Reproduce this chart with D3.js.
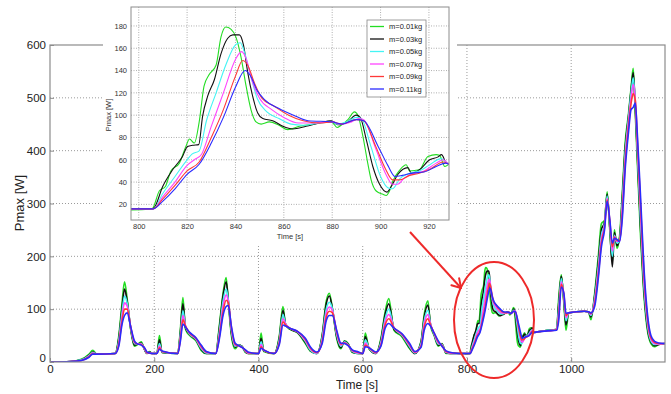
<!DOCTYPE html>
<html>
<head>
<meta charset="utf-8">
<script src="https://cdn.jsdelivr.net/npm/d3@7"></script>
<style>
  body { margin: 0; background: #fff; }
  svg { display: block; font-family: 'Liberation Sans', Arial, sans-serif; }
</style>
</head>
<body>
<svg width="671" height="394"></svg>
<script>
// series names / colours (legend order)
const labels = ['m=0.01kg', 'm=0.03kg', 'm=0.05kg', 'm=0.07kg', 'm=0.09kg', 'm=0.11kg'];
const colors = ['#22dd22', '#111111', '#44f4f4', '#ff44ff', '#ff3838', '#2a2aff'];

// time grid before the zoomed window (0..796 s)
const tPre = [0, 40, 60, 75, 82, 90, 125, 132, 138, 143, 148, 155, 162, 168, 175, 182, 186, 191, 196,
  205, 210, 215, 245, 250, 255, 260, 268, 280, 290, 300, 318, 325, 332, 338, 342, 348, 355, 362, 368,
  375, 380, 400, 405, 410, 430, 440, 447, 452, 460, 475, 490, 500, 512, 522, 530, 536, 542, 550, 558,
  565, 572, 580, 592, 600, 605, 612, 625, 635, 643, 650, 660, 675, 690, 700, 712, 718, 725, 730, 737,
  745, 752, 760, 775, 796];

const vPre = [
  [0, 1, 5, 15, 22, 15, 16, 50, 110, 152, 120, 60, 30, 33, 38, 22, 16, 20, 16, 16, 50, 18, 16, 60, 122, 62, 50, 40, 22, 16,
   16, 70, 130, 160, 115, 50, 25, 32, 30, 18, 16, 16, 55, 20, 16, 50, 105, 70, 62, 55, 35, 20, 16,
   50, 115, 130, 100, 45, 25, 40, 35, 18, 16, 16, 55, 25, 16, 45, 95, 120, 60, 48, 25, 16, 40, 90, 116, 70, 50, 30, 35, 16, 16, 16],
  [0, 1, 4, 13, 19, 15, 16, 45, 100, 138, 115, 62, 32, 34, 36, 22, 16, 19, 16, 16, 42, 18, 16, 55, 110, 65, 52, 42, 24, 16,
   16, 65, 125, 152, 118, 55, 28, 32, 30, 19, 16, 16, 45, 21, 16, 46, 98, 72, 63, 56, 37, 21, 16,
   48, 110, 125, 100, 48, 27, 39, 34, 19, 16, 16, 48, 26, 16, 42, 90, 110, 62, 50, 27, 16, 38, 85, 108, 72, 52, 32, 34, 17, 16, 16],
  [0, 1, 4, 12, 18, 15, 16, 40, 92, 125, 112, 64, 35, 34, 35, 23, 17, 18, 16, 16, 35, 19, 16, 50, 97, 68, 53, 43, 26, 17,
   16, 58, 115, 138, 118, 60, 30, 32, 29, 20, 17, 16, 38, 22, 16, 42, 90, 72, 64, 57, 39, 22, 16,
   44, 100, 113, 100, 52, 30, 38, 33, 20, 16, 16, 42, 27, 17, 38, 82, 100, 64, 51, 29, 17, 35, 78, 98, 72, 53, 34, 33, 18, 16, 16],
  [0, 1, 3, 11, 17, 15, 16, 36, 84, 112, 106, 65, 37, 34, 34, 24, 17, 18, 16, 16, 30, 20, 16, 45, 88, 68, 54, 44, 28, 18,
   16, 52, 105, 127, 115, 63, 32, 31, 28, 21, 17, 16, 33, 22, 16, 38, 82, 72, 64, 57, 41, 24, 17,
   40, 92, 104, 97, 55, 32, 37, 32, 21, 17, 16, 36, 27, 17, 35, 76, 90, 65, 52, 31, 18, 32, 72, 90, 72, 54, 36, 32, 19, 16, 16],
  [0, 1, 3, 10, 16, 15, 16, 33, 76, 100, 100, 66, 38, 34, 33, 25, 18, 17, 16, 16, 27, 20, 16, 42, 80, 68, 55, 45, 30, 19,
   16, 48, 95, 117, 112, 66, 34, 31, 28, 22, 18, 16, 29, 23, 16, 36, 76, 70, 64, 58, 43, 26, 18,
   37, 85, 96, 93, 58, 34, 36, 32, 22, 18, 16, 32, 27, 18, 32, 70, 82, 65, 53, 33, 19, 30, 66, 82, 70, 55, 38, 31, 20, 17, 16],
  [0, 1, 3, 9, 15, 15, 16, 30, 70, 88, 93, 66, 40, 34, 32, 26, 19, 17, 16, 16, 24, 21, 16, 38, 72, 66, 56, 46, 32, 20,
   16, 44, 88, 105, 107, 68, 36, 31, 28, 23, 19, 16, 26, 23, 16, 33, 70, 68, 64, 58, 45, 28, 19,
   34, 78, 88, 88, 60, 36, 35, 31, 23, 19, 16, 29, 27, 19, 30, 64, 73, 64, 54, 35, 20, 28, 60, 73, 68, 55, 40, 30, 21, 17, 16]
];

// zoomed window 797..928 s, [time, Pmax]
const zoomGreen = [[797, 15], [805.5, 16], [808.5, 32], [811, 36], [813.3, 50], [816.8, 57], [819.5, 72], [821, 78.6], [823, 75],
  [825, 94], [827, 126], [829, 136], [832, 145], [834, 170], [836, 179], [838.2, 177], [840.2, 170], [842.3, 152], [844.4, 126],
  [846.4, 105], [848.5, 94], [850.6, 92], [854, 94], [858, 91], [861.6, 87], [866.5, 90], [872, 92], [879, 94.4], [880.3, 93],
  [882, 89], [883.7, 91], [886.5, 96], [889.2, 103], [890.6, 100], [892.7, 81], [894.7, 57], [896.1, 42], [898.2, 32], [901, 29],
  [902.3, 28], [903.7, 32], [905.1, 41], [908, 51], [910.6, 55.5], [912, 50], [916, 51], [919.6, 63], [923, 64.6], [924.4, 64],
  [925.8, 57], [926.5, 54], [928.5, 56]];
const zoomBlack = [[797, 16], [805.5, 16], [806.4, 17], [809.9, 36], [814, 51], [818.1, 63], [820.2, 72], [822.3, 73], [824.8, 73.6],
  [826.4, 99], [828.5, 117], [831.3, 132], [834, 155], [836.8, 169], [838.9, 172], [841.6, 172], [843.3, 163], [845.1, 138],
  [847.1, 117], [849.2, 102], [851.3, 97], [855.4, 95], [859.6, 90], [863.7, 87.6], [869.2, 90], [874.7, 93], [879.6, 95],
  [882.3, 91.4], [886.5, 94.4], [889.9, 100], [891.6, 98], [894.1, 78], [896.8, 54], [899.6, 38], [902.6, 31], [904.4, 36],
  [907.2, 47], [911.3, 53], [912.7, 48], [916.1, 51], [920.3, 60], [923.8, 62.6], [925.2, 64.6], [927.3, 57], [928.5, 56.6]];
const zoomCyan = [[797, 16], [806, 16], [810, 30], [815, 45], [820, 60], [822, 65], [825, 68], [828, 95], [832, 120], [836, 145],
  [840, 163], [842, 165], [843.5, 158], [846, 138], [849, 115], [853, 103], [858, 97], [863, 92], [868, 91], [875, 93], [880, 94],
  [882, 92], [886, 94], [890, 98], [892, 97], [896, 72], [900, 45], [903, 35], [905, 34], [908, 43], [912, 48], [916, 50],
  [920, 55], [925, 61], [928.5, 56]];
const zoomMagenta = [[797, 16], [806, 16], [810, 27], [815, 40], [820, 55], [823, 60], [826, 65], [830, 90], [835, 120], [840, 150],
  [842.5, 157], [844, 153], [847, 130], [850, 115], [855, 105], [860, 98], [866, 93], [872, 93], [880, 94], [883, 92], [888, 94],
  [891, 97], [893, 96], [898, 70], [902, 48], [905, 38], [907, 38], [910, 44], [914, 48], [918, 50], [923, 57], [926, 60], [928.5, 56]];
const zoomRed = [[797, 16], [806, 16], [810, 25], [815, 37], [820, 50], [825, 58], [830, 80], [835, 105], [840, 135], [843, 149],
  [845, 145], [848, 128], [851, 115], [856, 108], [862, 100], [868, 95], [875, 93], [880, 94], [884, 92], [890, 96], [893, 95],
  [898, 72], [902, 52], [905, 42], [908, 42], [912, 46], [916, 48], [920, 51], [926, 58], [928.5, 56]];
const zoomBlue = [[797, 16], [806, 16], [810, 23], [815, 34], [820, 47], [825, 56], [830, 75], [835, 98], [840, 125], [844, 140],
  [846, 136], [849, 122], [852, 114], [858, 106], [864, 100], [870, 95], [880, 94], [884, 92], [890, 96], [893, 95], [899, 72],
  [903, 55], [906, 45], [909, 46], [913, 48], [918, 49], [923, 54], [927, 57], [928.5, 56]];
const zoomData = [zoomGreen, zoomBlack, zoomCyan, zoomMagenta, zoomRed, zoomBlue];

// after the zoomed window
const tPost = [935, 955, 972, 976, 981, 986, 990, 995, 1010, 1025, 1033, 1038, 1045, 1052, 1058, 1064, 1069, 1074, 1079, 1083,
  1088, 1093, 1098, 1104, 1110, 1115, 1119, 1123, 1127, 1133, 1140, 1147, 1153, 1160, 1168, 1180];
const vPost = [
  [57, 60, 62, 120, 165, 110, 60, 92, 95, 96, 95, 80, 130, 200, 262, 268, 322, 250, 190, 250, 215, 240, 320, 420, 470, 520, 556, 470, 375, 240, 120, 55, 35, 29, 33, 35],
  [57, 60, 62, 110, 162, 115, 70, 93, 95, 96, 95, 85, 125, 190, 250, 265, 318, 255, 180, 245, 220, 235, 310, 410, 465, 515, 548, 480, 390, 255, 130, 60, 38, 31, 33, 35],
  [57, 60, 62, 100, 158, 120, 78, 93, 95, 96, 95, 88, 120, 180, 240, 262, 314, 260, 200, 240, 225, 232, 300, 400, 460, 510, 538, 490, 400, 270, 140, 66, 40, 33, 34, 35],
  [57, 59, 61, 92, 152, 125, 84, 93, 95, 96, 95, 90, 115, 172, 232, 258, 310, 265, 210, 238, 228, 230, 290, 390, 455, 500, 525, 495, 410, 285, 150, 72, 43, 35, 34, 35],
  [57, 59, 61, 85, 147, 128, 88, 93, 95, 96, 95, 92, 110, 165, 225, 255, 307, 268, 218, 236, 230, 230, 280, 380, 445, 490, 508, 495, 420, 300, 160, 78, 46, 37, 35, 35],
  [57, 59, 60, 78, 142, 130, 92, 93, 95, 96, 95, 93, 105, 158, 218, 250, 304, 270, 225, 234, 232, 228, 270, 370, 435, 478, 482, 490, 430, 315, 172, 85, 50, 39, 36, 35]
];

const mainXTicks = [0, 200, 400, 600, 800, 1000];
const mainYTicks = [0, 100, 200, 300, 400, 500, 600];
const insetXTicks = [800, 820, 840, 860, 880, 900, 920];
const insetYTicks = [20, 40, 60, 80, 100, 120, 140, 160, 180];

const series = labels.map((label, i) => ({
  label,
  color: colors[i],
  values: [
    ...tPre.map((t, j) => [t, vPre[i][j]]),
    ...zoomData[i],
    ...tPost.map((t, j) => [t, vPost[i][j]])
  ]
}));

const svg = d3.select('svg');
const gridColor = '#9a9a9a';
const frameColor = '#8c8c8c';

// ---------- main chart ----------
const main = { left: 50, right: 665, top: 45, bottom: 362 };
const x = d3.scaleLinear().domain([0, 1180]).range([main.left, main.right]);
const y = d3.scaleLinear().domain([0, 600]).range([main.bottom, main.top]);

svg.append('clipPath').attr('id', 'clipMain')
  .append('rect')
  .attr('x', main.left).attr('y', main.top)
  .attr('width', main.right - main.left).attr('height', main.bottom - main.top);

const mainGrid = svg.append('g').attr('class', 'mainGrid')
  .attr('stroke', gridColor).attr('stroke-dasharray', '1,2');
mainGrid.selectAll('.gx').data(mainXTicks.filter((d) => d > 0))
  .enter().append('line')
  .attr('x1', (d) => x(d)).attr('x2', (d) => x(d))
  .attr('y1', main.top).attr('y2', main.bottom);
mainGrid.selectAll('.gy').data(mainYTicks.filter((d) => d > 0 && d < 600))
  .enter().append('line')
  .attr('x1', main.left).attr('x2', main.right)
  .attr('y1', (d) => y(d)).attr('y2', (d) => y(d));

const line = d3.line().x((d) => x(d[0])).y((d) => y(d[1])).curve(d3.curveMonotoneX);
svg.append('g').attr('clip-path', 'url(#clipMain)')
  .selectAll('path').data(series).enter().append('path')
  .attr('d', (d) => line(d.values))
  .attr('fill', 'none')
  .attr('stroke', (d) => d.color)
  .attr('stroke-width', 1.6)
  .attr('stroke-linejoin', 'round');

svg.append('rect')
  .attr('x', main.left).attr('y', main.top)
  .attr('width', main.right - main.left).attr('height', main.bottom - main.top)
  .attr('fill', 'none').attr('stroke', frameColor).attr('stroke-width', 1.2);

const xAxis = svg.append('g')
  .attr('transform', `translate(0,${main.bottom})`)
  .call(d3.axisBottom(x).tickValues(mainXTicks).tickFormat(d3.format('d'))
    .tickSizeInner(-4).tickSizeOuter(0).tickPadding(3));
const yAxis = svg.append('g')
  .attr('transform', `translate(${main.left},0)`)
  .call(d3.axisLeft(y).tickValues(mainYTicks).tickSizeInner(-4).tickSizeOuter(0).tickPadding(4));
[xAxis, yAxis].forEach((a) => {
  a.select('.domain').remove();
  a.selectAll('line').attr('stroke', frameColor);
  a.selectAll('text').attr('font-size', 11.5).attr('fill', '#222').style('font-family', 'Liberation Sans, Arial');
});
yAxis.selectAll('text').filter((d) => d === 0).attr('dy', '-0.05em');

svg.append('text')
  .attr('x', 357).attr('y', 389)
  .attr('text-anchor', 'middle').attr('font-size', 12).attr('fill', '#222')
  .text('Time [s]');
svg.append('text')
  .attr('transform', 'translate(24,203) rotate(-90)')
  .attr('text-anchor', 'middle').attr('font-size', 13).attr('fill', '#222')
  .text('Pmax [W]');

// ---------- inset ----------
const inset = { left: 131, right: 449, top: 7, bottom: 220 };
const xi = d3.scaleLinear().domain([796.8, 928.3]).range([inset.left, inset.right]);
const yi = d3.scaleLinear().domain([6, 197]).range([inset.bottom, inset.top]);

svg.append('rect').attr('x', 103).attr('y', 0).attr('width', 354).attr('height', 245).attr('fill', '#fff');

svg.append('clipPath').attr('id', 'clipInset')
  .append('rect')
  .attr('x', inset.left).attr('y', inset.top)
  .attr('width', inset.right - inset.left).attr('height', inset.bottom - inset.top);

const insetGrid = svg.append('g').attr('stroke', gridColor).attr('stroke-dasharray', '1,1.5').attr('stroke-width', 0.8);
insetGrid.selectAll('.gx').data(insetXTicks).enter().append('line')
  .attr('x1', (d) => xi(d)).attr('x2', (d) => xi(d))
  .attr('y1', inset.top).attr('y2', inset.bottom);
insetGrid.selectAll('.gy').data(insetYTicks).enter().append('line')
  .attr('x1', inset.left).attr('x2', inset.right)
  .attr('y1', (d) => yi(d)).attr('y2', (d) => yi(d));

const lineInset = d3.line().x((d) => xi(d[0])).y((d) => yi(d[1])).curve(d3.curveMonotoneX);
svg.append('g').attr('clip-path', 'url(#clipInset)')
  .selectAll('path').data(series).enter().append('path')
  .attr('d', (d) => lineInset(d.values.filter((p) => p[0] >= 780 && p[0] <= 940)))
  .attr('fill', 'none')
  .attr('stroke', (d) => d.color)
  .attr('stroke-width', 1.1);

svg.append('rect')
  .attr('x', inset.left).attr('y', inset.top)
  .attr('width', inset.right - inset.left).attr('height', inset.bottom - inset.top)
  .attr('fill', 'none').attr('stroke', frameColor).attr('stroke-width', 1);

const xiAxis = svg.append('g')
  .attr('transform', `translate(0,${inset.bottom})`)
  .call(d3.axisBottom(xi).tickValues(insetXTicks).tickSizeInner(0).tickSizeOuter(0).tickPadding(4));
const yiAxis = svg.append('g')
  .attr('transform', `translate(${inset.left},0)`)
  .call(d3.axisLeft(yi).tickValues(insetYTicks).tickSizeInner(0).tickSizeOuter(0).tickPadding(4));
[xiAxis, yiAxis].forEach((a) => {
  a.select('.domain').remove();
  a.selectAll('text').attr('font-size', 7.5).attr('fill', '#333').style('font-family', 'Liberation Sans, Arial');
});

svg.append('text')
  .attr('x', (inset.left + inset.right) / 2).attr('y', 239)
  .attr('text-anchor', 'middle').attr('font-size', 7.5).attr('fill', '#333')
  .text('Time [s]');
svg.append('text')
  .attr('transform', 'translate(111,115) rotate(-90)')
  .attr('text-anchor', 'middle').attr('font-size', 7.5).attr('fill', '#333')
  .text('Pmax [W]');

// legend
const legend = svg.append('g').attr('transform', 'translate(367,20)');
legend.append('rect').attr('width', 59).attr('height', 77)
  .attr('fill', '#fff').attr('stroke', '#888').attr('stroke-width', 0.8);
const items = legend.selectAll('.item').data(series).enter().append('g')
  .attr('transform', (d, i) => `translate(0,${6.5 + i * 12.5})`);
items.append('line').attr('x1', 3).attr('x2', 17)
  .attr('stroke', (d) => d.color).attr('stroke-width', 1.3);
items.append('text').attr('x', 22).attr('dy', '0.35em')
  .attr('font-size', 7.5).attr('fill', '#222')
  .text((d) => d.label);

// ---------- red annotation ----------
const red = '#ee2a2a';
svg.append('ellipse')
  .attr('cx', 494).attr('cy', 320).attr('rx', 40).attr('ry', 58)
  .attr('fill', 'none').attr('stroke', red).attr('stroke-width', 2);
const tip = [461, 288];
const tail = [410, 232];
svg.append('line')
  .attr('x1', tail[0]).attr('y1', tail[1]).attr('x2', tip[0]).attr('y2', tip[1])
  .attr('stroke', red).attr('stroke-width', 2);
const ang = Math.atan2(tip[1] - tail[1], tip[0] - tail[0]);
[-0.55, 0.55].forEach((da) => {
  svg.append('line')
    .attr('x1', tip[0]).attr('y1', tip[1])
    .attr('x2', tip[0] - 10 * Math.cos(ang + da)).attr('y2', tip[1] - 10 * Math.sin(ang + da))
    .attr('stroke', red).attr('stroke-width', 2).attr('stroke-linecap', 'round');
});
</script>
</body>
</html>
